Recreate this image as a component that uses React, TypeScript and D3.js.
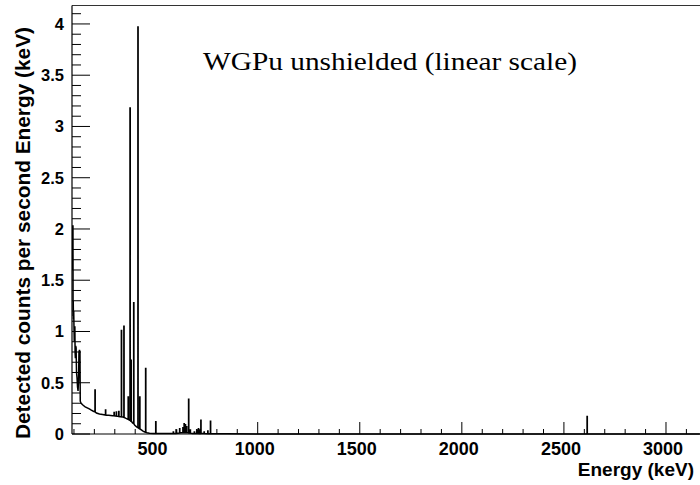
import React from "react";
import * as d3 from "d3";

// ---- chart data ----
const xTickValues = [500, 1000, 1500, 2000, 2500, 3000];
const xTickLabels = ["500", "1000", "1500", "2000", "2500", "3000"];
const yTickValues = [0, 0.5, 1, 1.5, 2, 2.5, 3, 3.5, 4];
const yTickLabels = ["0", "0.5", "1", "1.5", "2", "2.5", "3", "3.5", "4"];

const titleText = "WGPu unshielded (linear scale)";
const xTitle = "Energy (keV)";
const yTitle = "Detected counts per second Energy (keV)";

// continuum / low-energy shape (keV, counts/s/keV)
const continuumEnergy = [
  90.5, 92.8, 93.2, 95.2, 95.6, 96.4, 97.5, 98.8, 100, 101.5, 103, 104.5,
  105.5, 107, 108.5, 110.5, 112.5, 115, 117.5, 120, 122.5, 124.5, 127, 129.5,
  130.8, 135, 145, 155, 165, 175, 185, 195, 210, 225, 240, 270, 290, 315, 328,
  340, 355, 362, 371, 378, 386, 398, 407, 418, 430, 440, 447, 458, 470, 490,
  520, 560, 595, 628, 658, 680, 730, 790, 850, 1000, 1500, 2600, 3166,
];
const continuumRate = [
  1.6, 1.7, 2.03, 2.03, 1.15, 1.3, 1.12, 1.2, 1.06, 0.9, 0.95, 1.05,
  0.8, 0.74, 0.86, 0.84, 0.6, 0.55, 0.46, 0.42, 0.52, 0.8, 0.82, 0.8,
  0.32, 0.3, 0.28, 0.265, 0.255, 0.245, 0.232, 0.222, 0.205, 0.195, 0.19, 0.182,
  0.178, 0.172, 0.168, 0.165, 0.152, 0.145, 0.135, 0.125, 0.11, 0.085, 0.07,
  0.055, 0.04, 0.025, 0.02, 0.012, 0.008, 0.006, 0.005, 0.005, 0.006, 0.012,
  0.012, 0.006, 0.004, 0.003, 0.002, 0.001, 0.001, 0.0005, 0.0005,
];

// gamma lines: energy, peak height, height of the continuum under it
const peakEnergy = [
  203.5, 255, 297, 308, 320, 332.8, 345, 366, 375, 380, 393, 413.7, 422.6,
  451.5, 501, 587, 602, 618, 634, 640, 646, 652, 662, 670, 690, 703, 710, 717,
  722, 738, 756, 769, 2614,
];
const peakRate = [
  0.43, 0.235, 0.21, 0.215, 0.22, 1.01, 1.05, 0.36, 3.18, 0.72, 1.28, 3.97,
  0.36, 0.64, 0.12, 0.02, 0.04, 0.05, 0.06, 0.1, 0.09, 0.07, 0.34, 0.04, 0.02,
  0.04, 0.05, 0.04, 0.135, 0.02, 0.03, 0.125, 0.17,
];
const peakBase = [
  0.215, 0.185, 0.178, 0.175, 0.17, 0.167, 0.162, 0.142, 0.132, 0.126, 0.1,
  0.062, 0.05, 0.017, 0.006, 0.005, 0.006, 0.01, 0.012, 0.012, 0.012, 0.012,
  0.01, 0.008, 0.006, 0.005, 0.005, 0.004, 0.004, 0.004, 0.003, 0.003, 0.0005,
];

// ---- layout ----
const W = 700;
const H = 485;
const frameLeft = 72;
const frameRight = 700;
const frameTop = 5.5;
const frameBottom = 434;

const FONT_SANS = "'Liberation Sans', Arial, Helvetica, sans-serif";
const FONT_SERIF = "'Liberation Serif', 'Times New Roman', Times, serif";

export default function App() {
  const x = d3.scaleLinear().domain([90.4, 3166.6]).range([frameLeft, frameRight]);
  const y = d3.scaleLinear().domain([0, 4.18]).range([frameBottom, frameTop]);

  type Pt = [number, number];
  const pts: Pt[] = [];
  continuumEnergy.forEach((e, i) => pts.push([e, continuumRate[i]]));
  peakEnergy.forEach((e, i) => {
    pts.push([e - 0.6, peakBase[i]]);
    pts.push([e - 0.6, peakRate[i]]);
    pts.push([e + 0.6, peakRate[i]]);
    pts.push([e + 0.6, peakBase[i]]);
  });
  const sorted = pts
    .map((p, i) => ({ p, i }))
    .sort((a, b) => a.p[0] - b.p[0] || a.i - b.i)
    .map((d) => d.p);

  const line = d3
    .line<Pt>()
    .x((d) => x(d[0]))
    .y((d) => y(d[1]));

  const yMinor = d3.range(0, 42).map((k) => k / 10);
  const xMinor = d3.range(1, 32).map((k) => k * 100);

  return (
    <svg
      width={W}
      height={H}
      viewBox={`0 0 ${W} ${H}`}
      style={{ position: "absolute", left: 0, top: 0, background: "#fff" }}
    >
      <rect x={0} y={0} width={W} height={H} fill="#fff" />
      <defs>
        <clipPath id="frameClip">
          <rect
            x={frameLeft}
            y={frameTop}
            width={frameRight - frameLeft}
            height={frameBottom - frameTop + 2}
          />
        </clipPath>
      </defs>

      {/* spectrum */}
      <path
        d={line(sorted) || ""}
        fill="none"
        stroke="#000"
        strokeWidth={1.5}
        strokeLinejoin="miter"
        clipPath="url(#frameClip)"
      />

      {/* frame */}
      <line x1={frameLeft} x2={frameRight} y1={frameTop} y2={frameTop} stroke="#333" strokeWidth={1.2} />
      <line x1={frameLeft} x2={frameLeft} y1={frameTop} y2={frameBottom} stroke="#000" strokeWidth={1.2} />
      <line x1={frameLeft} x2={frameRight} y1={frameBottom} y2={frameBottom} stroke="#000" strokeWidth={1.2} />

      {/* y ticks */}
      {yMinor.map((v) => {
        const major = Math.abs(v * 2 - Math.round(v * 2)) < 1e-6;
        return (
          <line
            key={"yt" + v}
            x1={frameLeft}
            x2={frameLeft + (major ? 18 : 9)}
            y1={y(v)}
            y2={y(v)}
            stroke="#000"
            strokeWidth={1}
          />
        );
      })}
      {yTickValues.map((v, i) => (
        <text
          key={"yl" + v}
          x={64}
          y={y(v)}
          dy="0.36em"
          textAnchor="end"
          fontFamily={FONT_SANS}
          fontWeight="bold"
          fontSize={16.5}
          fill="#000"
        >
          {yTickLabels[i]}
        </text>
      ))}

      {/* x ticks */}
      {xMinor.map((v) => {
        const major = v % 500 === 0;
        return (
          <line
            key={"xt" + v}
            x1={x(v)}
            x2={x(v)}
            y1={frameBottom}
            y2={frameBottom - (major ? 12 : 5)}
            stroke="#000"
            strokeWidth={1}
          />
        );
      })}
      {xTickValues.map((v, i) => (
        <text
          key={"xl" + v}
          x={x(v) - 3}
          y={455}
          textAnchor="middle"
          fontFamily={FONT_SANS}
          fontWeight="bold"
          fontSize={18}
          fill="#000"
        >
          {xTickLabels[i]}
        </text>
      ))}

      {/* axis titles */}
      <text
        x={694}
        y={476}
        textAnchor="end"
        fontFamily={FONT_SANS}
        fontWeight="bold"
        fontSize={19}
        fill="#000"
      >
        {xTitle}
      </text>
      <text
        transform="translate(29.5,233) rotate(-90)"
        textAnchor="middle"
        fontFamily={FONT_SANS}
        fontWeight="bold"
        fontSize={19.5}
        textLength={412}
        lengthAdjust="spacingAndGlyphs"
        fill="#000"
      >
        {yTitle}
      </text>

      {/* title */}
      <text
        x={203}
        y={70}
        fontFamily={FONT_SERIF}
        fontSize={25.5}
        textLength={374}
        lengthAdjust="spacingAndGlyphs"
        fill="#000"
      >
        {titleText}
      </text>
    </svg>
  );
}
